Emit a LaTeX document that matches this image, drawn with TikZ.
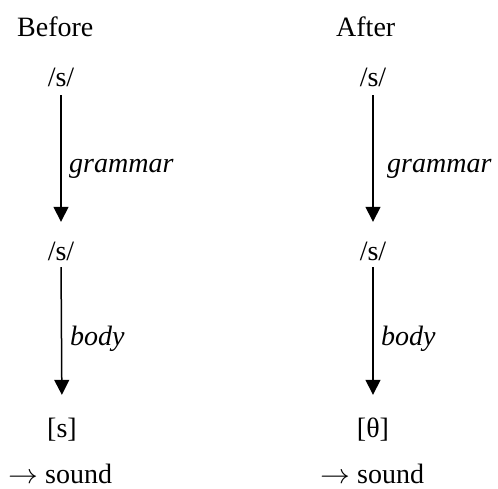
\documentclass[tikz,border=0pt]{standalone}
\usepackage{fontspec}
\usepackage{graphicx}
\setmainfont{Liberation Serif}
\usetikzlibrary{arrows.meta}
\newcommand{\longarr}{\makebox[37pt][l]{\scalebox{1.2}[1.1]{$\rightarrow$}}}
\begin{document}
\begin{tikzpicture}[x=1pt,y=1pt,
  lbl/.style={inner sep=0pt,font=\fontsize{28}{33}\selectfont},
  sym/.style={lbl,anchor=base,text height=20pt,text depth=0pt},
  edgelbl/.style={lbl,anchor=base west,font=\fontsize{28}{33}\selectfont\itshape},
  result/.style={lbl,anchor=base west,text depth=0pt},
  arr/.style={line width=1.5pt,-{Triangle[width=15pt,length=15pt]}}]
\useasboundingbox (0,0) rectangle (498,-488);
% left column
\node[lbl,anchor=base west] (before) at (17,-36) {Before};
\node[sym] (s1) at (61,-86) {/s/};
\node[sym] (s2) at (61,-260) {/s/};
\node[sym] (s3) at (62,-437) {[s]};
\node[result] (snd1) at (8,-483) {\longarr sound};
\node[edgelbl] (g1) at (69,-172) {grammar};
\node[edgelbl] (b1) at (70,-345) {body};
\draw[arr,shorten <=9pt,shorten >=18pt] (s1.south) -- (s2.north);
\draw[arr,shorten <=7pt,shorten >=22pt] (s2.south) -- (s3.north);
% right column
\node[lbl,anchor=base west] (after) at (336,-36) {After};
\node[sym] (t1) at (373,-86) {/s/};
\node[sym] (t2) at (373,-260) {/s/};
\node[sym] (t3) at (373,-437) {[θ]};
\node[result] (snd2) at (320,-483) {\longarr sound};
\node[edgelbl] (g2) at (387,-172) {grammar};
\node[edgelbl] (b2) at (381,-345) {body};
\draw[arr,shorten <=9pt,shorten >=18pt] (t1.south) -- (t2.north);
\draw[arr,shorten <=7pt,shorten >=22pt] (t2.south) -- (t3.north);
\end{tikzpicture}
\end{document}
